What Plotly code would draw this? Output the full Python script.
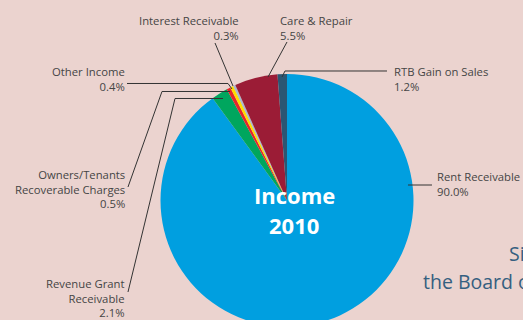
import plotly.graph_objects as go

# Income breakdown for 2010 (percent of total)
labels = ["Rent Receivable", "Revenue Grant Receivable", "Owners/Tenants Recoverable Charges",
          "Other Income", "Interest Receivable", "Care & Repair", "RTB Gain on Sales"]
display_names = ["Rent Receivable", "Revenue Grant<br>Receivable",
                 "Owners/Tenants<br>Recoverable Charges", "Other Income",
                 "Interest Receivable", "Care & Repair", "RTB Gain on Sales"]
values = [90.0, 2.1, 0.5, 0.4, 0.3, 5.5, 1.2]
colors = ["#009fe0", "#00a65e", "#e5262b", "#ffdc00", "#a9b9cc", "#9b1c36", "#2b5673"]

W, H = 523, 330
BG = "#ebd3cf"
TXT = "#454545"


def px(x):
    return x / W


def py(y):
    return 1 - y / H


# pie geometry in pixels
cx, cy, r = 287, 200.5, 126.5

fig = go.Figure(go.Pie(
    labels=labels, values=values, sort=False, direction="clockwise", rotation=0,
    marker=dict(colors=colors, line=dict(width=0)), textinfo="none", hoverinfo="label+percent",
    domain=dict(x=[px(cx - r - 10), px(cx + r + 10)], y=[py(cy + r), py(cy - r)]),
    showlegend=False,
))

# label placement: (x, y-centre, anchor)
label_pos = {
    "Rent Receivable": (435, 184, "left"),
    "Revenue Grant Receivable": (127, 298, "right"),
    "Owners/Tenants Recoverable Charges": (127, 188.5, "right"),
    "Other Income": (127, 79, "right"),
    "Interest Receivable": (241, 27.5, "right"),
    "Care & Repair": (278, 27.5, "left"),
    "RTB Gain on Sales": (392, 79, "left"),
}
# leader polylines in pixels
leaders = {
    "Rent Receivable": [(408, 185), (432, 185)],
    "Revenue Grant Receivable": [(128, 292), (175, 98.5), (223, 98.5)],
    "Owners/Tenants Recoverable Charges": [(128, 187), (162, 91.5), (230, 91.5)],
    "Other Income": [(127, 83.5), (228, 83.5), (232, 89)],
    "Interest Receivable": [(215, 43), (233, 86)],
    "Care & Repair": [(287, 42), (268, 77)],
    "RTB Gain on Sales": [(387, 71), (285, 71), (282, 77)],
}

annotations = []
shapes = []
for lab, name, val in zip(labels, display_names, values):
    x, y, anc = label_pos[lab]
    annotations.append(dict(
        x=px(x), y=py(y), xref="paper", yref="paper", xanchor=anc, yanchor="middle",
        align=anc, text=f"{name}<br>{val:.1f}%", showarrow=False,
        font=dict(family="Open Sans", size=11.3, color=TXT),
    ))
    pts = leaders[lab]
    path = "M " + " L ".join(f"{px(a):.5f},{py(b):.5f}" for a, b in pts)
    shapes.append(dict(type="path", xref="paper", yref="paper", path=path,
                       line=dict(color="#333333", width=1)))

# centre title
for t, y in [("Income", 195), ("2010", 225)]:
    annotations.append(dict(
        x=px(294), y=py(y), xref="paper", yref="paper", xanchor="center", yanchor="middle",
        text=t, showarrow=False,
        font=dict(family="Open Sans", size=22, color="white", weight="bold"),
    ))

# side text
for t, x, y in [("Signed on behalf of", 507, 253), ("the Board of Management", 421, 281)]:
    annotations.append(dict(
        x=px(x), y=py(y), xref="paper", yref="paper", xanchor="left", yanchor="middle",
        text=t, showarrow=False,
        font=dict(family="Open Sans", size=19.5, color="#355f80"),
    ))

fig.update_layout(
    width=W, height=H, margin=dict(l=0, r=0, t=0, b=0),
    paper_bgcolor=BG, plot_bgcolor=BG,
    annotations=annotations, shapes=shapes,
)

fig.write_html(
    "out.html",
    post_script="document.documentElement.style.overflow='hidden';"
                "document.body.style.overflow='hidden';document.body.style.margin='0';",
)
